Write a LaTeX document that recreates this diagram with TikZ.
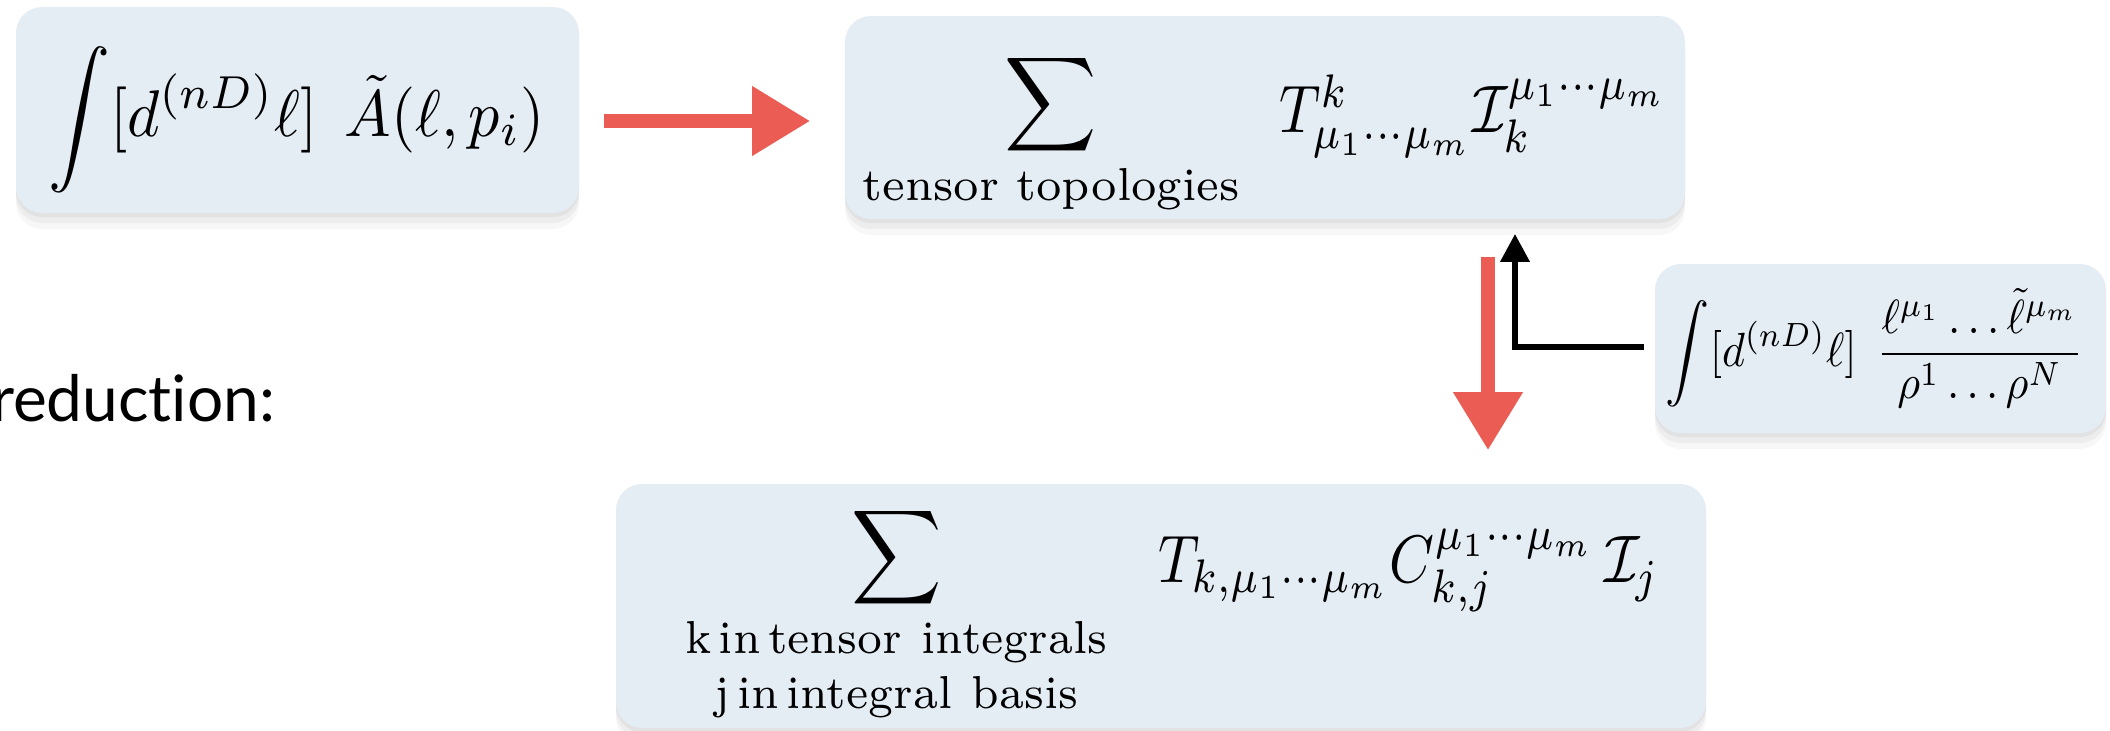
\documentclass[tikz,border=0pt]{standalone}
\usepackage{amsmath}
\usepackage{fontspec}
\newfontfamily\labelfont[Ligatures=NoCommon]{Lato}
\usetikzlibrary{arrows.meta,shadows,calc}
\definecolor{boxfill}{RGB}{228,236,244}
\definecolor{chalkred}{RGB}{235,92,84}
\begin{document}
\begin{tikzpicture}[x=0.25pt,y=-0.25pt,
  box/.style={fill=boxfill, draw=none, rounded corners=6.5pt, inner sep=0pt,
    drop shadow={shadow xshift=0pt,shadow yshift=-1pt,opacity=0.05,fill=black},
    drop shadow={shadow xshift=0pt,shadow yshift=-2.5pt,opacity=0.04,fill=black},
    drop shadow={shadow xshift=0pt,shadow yshift=-4pt,opacity=0.03,fill=black}},
  bigmath/.style={inner sep=0pt, scale=1.65, transform shape},
  prodmath/.style={inner sep=0pt, xscale=1.43, yscale=1.68, transform shape},
  smallmath/.style={inner sep=0pt, xscale=1.1, yscale=1.2, transform shape},
  redarrow/.style={draw=chalkred, line width=3.4pt, line cap=butt,
    -{Triangle[length=14.5pt,width=16.5pt]}},
  blackarrow/.style={draw=black, line width=1.6pt, line join=miter,
    -{Triangle[length=7pt,width=7pt]}},
  heading/.style={inner sep=0pt, font=\labelfont\fontsize{16}{20}\selectfont}]
\useasboundingbox (0,0) rectangle (2110,730);

% boxes
\node[box, minimum width=140.75pt, minimum height=51.5pt] (b1) at (297.5,110) {};
\node[box, minimum width=210pt, minimum height=50.75pt] (b2) at (1265,117.5) {};
\node[box, minimum width=112.75pt, minimum height=42.25pt] (b3) at (1880.5,348.5) {};
\node[box, minimum width=272.5pt, minimum height=61pt] (b4) at (1161,606) {};

% contents
\node[bigmath, xscale=0.94, anchor=base west] (f1) at (47,136)
  {$\displaystyle\int[d^{(nD)}\ell]\;\,\tilde{A}(\ell,p_i)$};
\node[bigmath, xscale=0.97, anchor=base west] (f2) at (861,121)
  {$\displaystyle\sum_{\text{tensor topologies}}$};
\node[prodmath, anchor=base west] (f2p) at (1278,132)
  {$T^k_{\mu_1\cdots\mu_m}\mathcal{I}_k^{\mu_1\cdots\mu_m}$};
\node[smallmath, anchor=base west] (f3) at (1665,366)
  {$\displaystyle\int[d^{(nD)}\ell]\;\,\frac{\ell^{\mu_1}\ldots\tilde{\ell}^{\mu_m}}{\rho^1\ldots\rho^N}$};
\node[bigmath, xscale=0.95, anchor=base west] (f4) at (684,574)
  {$\displaystyle\sum_{\substack{\text{k\,in\,tensor\;\,integrals}\\[1pt] \text{j\,in\,integral\;\,basis}}}$};
\node[prodmath, anchor=base west] (f4p) at (1157,582)
  {$T_{k,\mu_1\cdots\mu_m}C_{k,j}^{\mu_1\cdots\mu_m}\,\mathcal{I}_j$};

\node[heading, anchor=base east] (lab) at (276,421) {reduction:};

% connectors
\draw[redarrow] ([shift={(24,11)}]b1.east) -- ([shift={(-34,3.5)}]b2.west);
\draw[redarrow] ([shift={(223,37)}]b2.south) -- ([shift={(327,-33)}]b4.north);
\draw[blackarrow] ([shift={(-10,-1.5)}]b3.west) -| ([shift={(250,14)}]b2.south);
\end{tikzpicture}
\end{document}
